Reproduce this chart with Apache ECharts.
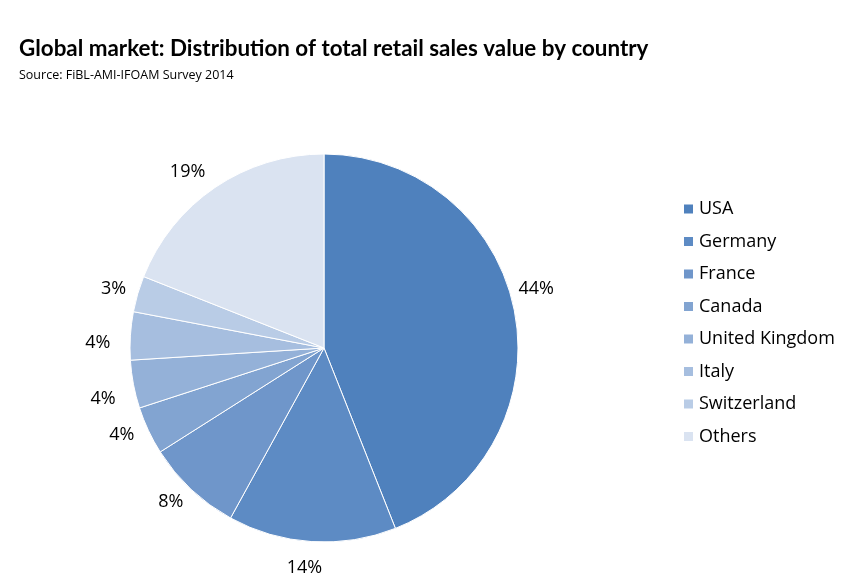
<!DOCTYPE html>
<html><head><meta charset="utf-8">
<script src="https://cdn.jsdelivr.net/npm/echarts@6/dist/echarts.min.js"></script>
<style>html,body{margin:0;padding:0;background:#fff}#c{width:850px;height:587px}</style>
</head><body><div id="c"></div>
<script>
const categories = ["USA","Germany","France","Canada","United Kingdom","Italy","Switzerland","Others"];
const values = [44,14,8,4,4,4,3,19];
const colors = ["#4F81BD","#5D8BC4","#6F96CA","#82A4D1","#94B1D8","#A6BEDF","#B9CCE6","#DAE3F1"];
// small label nudges (style), mimicking the reference's label placement
const labelNudge = [[-11,-21],[16,16],[4,5],[0,0],[-3,13],[-5,8],[3,-2],[1,-7]];

const chart = echarts.init(document.getElementById('c'));
chart.setOption({
  animation:false,
  color: colors,
  title:[{
    text:"Global market: Distribution of total retail sales value by country",
    left:14, top:33,
    textStyle:{fontFamily:"Lato",fontWeight:"bold",fontSize:22.4,color:"#000"}
  },{
    text:"Source: FiBL-AMI-IFOAM Survey 2014",
    left:14, top:64,
    textStyle:{fontFamily:"Open Sans",fontWeight:"normal",fontSize:12.5,color:"#000"}
  }],
  legend:{
    orient:"vertical", left:677, top:195,
    itemWidth:11, itemHeight:11, itemGap:14.5, icon:"rect",
    textStyle:{fontFamily:"Open Sans",fontSize:18,color:"#000"},
    data: categories
  },
  series:[{
    type:"pie",
    center:[324,348], radius:194,
    startAngle:90, clockwise:true,
    itemStyle:{borderColor:"#fff",borderWidth:1},
    label:{show:true,position:"outside",formatter:"{d}%",
      fontFamily:"Open Sans",fontSize:18,color:"#000"},
    labelLine:{show:false,length:10,length2:0},
    labelLayout:function(p){
      const n = labelNudge[p.dataIndex];
      return {dx:n[0], dy:n[1]};
    },
    data: categories.map((n,i)=>({name:n,value:values[i]}))
  }]
});
</script></body></html>
